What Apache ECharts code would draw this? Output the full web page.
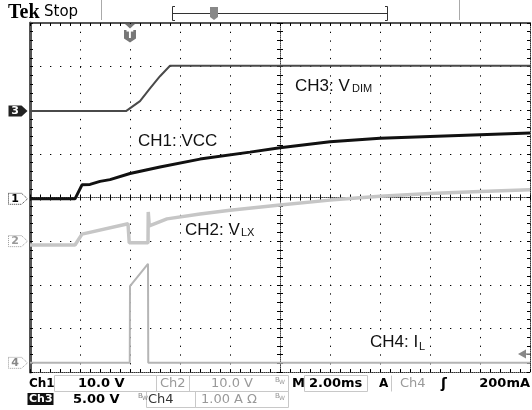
<!DOCTYPE html>
<html><head><meta charset="utf-8">
<style>html,body{margin:0;padding:0;background:#fff}#c{width:532px;height:410px}</style>
<script src="https://cdn.jsdelivr.net/npm/echarts@6/dist/echarts.min.js"></script>
</head><body><div id="c"></div>
<script>
// ---- data (time in ms, 2.00 ms/div, 10 div) ----
const timeRange = [0, 20];               // ms across the screen
const timeDiv = 2;                       // ms per division
const triggerTime = 4;                   // ms (T marker)
const triggerLevelCh4 = 0.2;             // A (200mA)
// CH1: VCC (volts)
const ch1VCC = [[0,0],[1.8,0],[2.08,3.2],[2.4,3.3],[2.8,4.0],[3.2,4.4],[4.0,5.8],[5.2,7.3],[6.8,9.1],[8.8,10.7],[10,11.7],[12,13.1],[14,13.9],[16,14.3],[18,14.7],[20,15.1]];
// CH2: VLX (volts)
const ch2VLX = [[0,-0.9],[1.8,-0.9],[2.08,1.6],[3.92,4.0],[3.97,-0.4],[4.72,-0.4],[4.73,6.7],[4.77,3.5],[5.48,5.1],[6.8,6.2],[8,7.1],[10,8.3],[12,9.4],[14,10.3],[16,10.9],[18,11.4],[20,11.8]];
// CH3: VDIM (volts)
const ch3VDIM = [[0,0],[3.84,0],[4.4,1.15],[4.8,2.6],[5.2,4.0],[5.6,5.2],[20,5.2]];
// CH4: IL (amps)
const ch4IL = [[0,0],[3.99,0],[4.0,1.76],[4.72,2.27],[4.73,0],[20,0]];
// channel scale (units/div) and ground position (div from centre)
const ch1Scale = 10,  ch1Pos = -0.03;
const ch2Scale = 10,  ch2Pos = -1.0;
const ch3Scale = 5,   ch3Pos = 1.98;
const ch4Scale = 1,   ch4Pos = -3.79;

const chart = echarts.init(document.getElementById('c'), null, {renderer:'canvas'});
const tickStyle = {color:'#000', width:1};
function chAxis(scale, pos){ return {type:'value', show:false, min:(-4-pos)*scale, max:(4-pos)*scale}; }
function borderX(pos, lineStyle, inside){
  return {type:'value', min:timeRange[0], max:timeRange[1], interval:timeDiv, position:pos,
    axisLine:{show:true, onZero:false, lineStyle:lineStyle},
    axisTick:{show:true, inside:inside, length:3, lineStyle:tickStyle},
    minorTick:{show:true, splitNumber:5, length:3, lineStyle:tickStyle},
    axisLabel:{show:false}, splitLine:{show:false}};
}
function centerX(inside, showLine){
  return {type:'value', min:-5, max:5, interval:1, position:'bottom',
    axisLine:{show:showLine, onZero:true, onZeroAxisIndex:0, lineStyle:{color:'#444', type:[1,1]}},
    axisTick:{show:true, inside:inside, length:3, lineStyle:tickStyle},
    minorTick:{show:true, splitNumber:5, length:3, lineStyle:tickStyle},
    axisLabel:{show:false}, splitLine:{show:false}};
}
function borderY(pos, lineStyle){
  return {type:'value', min:-4, max:4, interval:1, position:pos,
    axisLine:{show:true, onZero:false, lineStyle:lineStyle},
    axisTick:{show:true, inside:true, length:3, lineStyle:tickStyle},
    minorTick:{show:true, splitNumber:5, length:3, lineStyle:tickStyle},
    axisLabel:{show:false}, splitLine:{show:false}};
}
function centerY(inside, showLine){
  return {type:'value', min:-4, max:4, interval:1, position:'left',
    axisLine:{show:showLine, onZero:true, onZeroAxisIndex:2, lineStyle:{color:'#444', type:[1,1]}},
    axisTick:{show:true, inside:inside, length:3, lineStyle:tickStyle},
    minorTick:{show:true, splitNumber:5, length:3, lineStyle:tickStyle},
    axisLabel:{show:false}, splitLine:{show:false}};
}
const x0 = borderX('bottom', {color:'#333', type:[1,1], width:1}, true);
x0.splitLine = {show:true, lineStyle:{color:'#000', width:1, type:[1.3,7.42]}};
const y0 = borderY('left', {color:'#555', width:3});
y0.splitLine = {show:true, lineStyle:{color:'#000', width:1, type:[1.3,8.7]}};

const option = {
  animation:false,
  backgroundColor:'#fff',
  grid:{left:30, top:23, width:500, height:349, show:false},
  xAxis:[x0, borderX('top', {color:'#555', width:2}, true), centerX(true, true), centerX(false, false)],
  yAxis:[y0, borderY('right', {color:'#333', type:[1,1], width:1}), centerY(true, true), centerY(false, false),
         chAxis(ch1Scale, ch1Pos), chAxis(ch2Scale, ch2Pos), chAxis(ch3Scale, ch3Pos), chAxis(ch4Scale, ch4Pos)],
  series:[
    {name:'CH4', type:'line', xAxisIndex:0, yAxisIndex:7, data:ch4IL, symbol:'none', lineStyle:{color:'#b5b5b5', width:2}, z:3},
    {name:'CH2', type:'line', xAxisIndex:0, yAxisIndex:5, data:ch2VLX, symbol:'none', lineStyle:{color:'#c6c6c6', width:3.5}, z:3},
    {name:'CH3', type:'line', xAxisIndex:0, yAxisIndex:6, data:ch3VDIM, symbol:'none', lineStyle:{color:'#4a4a4a', width:2}, z:4},
    {name:'CH1', type:'line', xAxisIndex:0, yAxisIndex:4, data:ch1VCC, symbol:'none', lineStyle:{color:'#111', width:3}, z:5}
  ]
};
chart.setOption(option);

const px = v => chart.convertToPixel({xAxisIndex:0}, v);
const py = (i, v) => chart.convertToPixel({yAxisIndex:i}, v);
const SANS = '"Liberation Sans", Arial, sans-serif';
const DJ = '"DejaVu Sans", sans-serif';
function txt(x, y, s, font, fill, align){
  return {type:'text', x:x, y:y, z:100, style:{text:s, font:font, fill:fill||'#000', align:align||'left', verticalAlign:'middle'}};
}
function marker(label, y, fill, stroke, tcol){
  return [
    {type:'polygon', z:100, shape:{points:[[8.5,y-5.5],[21.5,y-5.5],[27.5,y],[21.5,y+5.5],[8.5,y+5.5]]},
      style:{fill:fill, stroke:stroke, lineWidth:1, lineDash:stroke==='none'?null:[1,1]}},
    txt(15, y+0.5, label, 'bold 11px ' + DJ, tcol, 'center')
  ];
}
const g = [];
g.push(...marker('3', py(6,0), '#222', 'none', '#fff'));
g.push(...marker('1', py(4,0), '#fff', '#333', '#000'));
g.push(...marker('2', py(5,0), '#fff', '#999', '#999'));
g.push(...marker('4', py(7,0), '#fff', '#999', '#888'));
const tx = px(triggerTime);
g.push({type:'polygon', z:100, shape:{points:[[tx-5,24],[tx+5,24],[tx,28.5]]}, style:{fill:'#777'}});
g.push({type:'polygon', z:100, shape:{points:[[tx-6,30],[tx+6,30],[tx+6,38.5],[tx,42.5],[tx-6,38.5]]}, style:{fill:'#777'}});
g.push(txt(tx, 35.5, 'T', 'bold 10px ' + DJ, '#fff', 'center'));
const ty = py(7, triggerLevelCh4), rx = px(timeRange[1]);
g.push({type:'polygon', z:100, shape:{points:[[rx-12,ty],[rx-4,ty-4.5],[rx-4,ty+4.5]]}, style:{fill:'#888'}});
g.push({type:'line', z:100, shape:{x1:rx-4, y1:ty, x2:rx, y2:ty}, style:{stroke:'#888', lineWidth:1.5}});
g.push(txt(295, 86, 'CH3: V', '17px ' + SANS, '#111'));
g.push(txt(352, 88.5, 'DIM', '11px ' + SANS, '#111'));
g.push(txt(138, 141.5, 'CH1: VCC', '17px ' + SANS, '#111'));
g.push(txt(185, 230.5, 'CH2: V', '17px ' + SANS, '#111'));
g.push(txt(241, 232.5, 'LX', '11px ' + SANS, '#111'));
g.push(txt(370, 342, 'CH4: I', '17px ' + SANS, '#111'));
g.push(txt(419, 347, 'L', '11px ' + SANS, '#111'));
g.push(txt(8, 12.5, 'Tek', 'bold 20px "Liberation Serif", serif', '#000'));
g.push(txt(44, 12.3, 'Stop', '15px ' + DJ, '#000'));
g.push({type:'line', z:100, shape:{x1:101.5, y1:0, x2:101.5, y2:20}, style:{stroke:'#aaa', lineWidth:1}});
g.push({type:'line', z:100, shape:{x1:459.5, y1:0, x2:459.5, y2:20}, style:{stroke:'#aaa', lineWidth:1}});
g.push({type:'polyline', z:100, shape:{points:[[175,6.5],[172.5,6.5],[172.5,20.5],[175,20.5]]}, style:{stroke:'#333', lineWidth:1, fill:null}});
g.push({type:'polyline', z:100, shape:{points:[[385,6.5],[387.5,6.5],[387.5,20.5],[385,20.5]]}, style:{stroke:'#333', lineWidth:1, fill:null}});
g.push({type:'line', z:100, shape:{x1:172.5, y1:13.5, x2:387.5, y2:13.5}, style:{stroke:'#333', lineWidth:1}});
g.push({type:'polygon', z:101, shape:{points:[[210,7],[218,7],[218,17],[214,20],[210,17]]}, style:{fill:'#888'}});
g.push(txt(214, 12.5, 'T', 'bold 8px ' + DJ, '#fff', 'center'));
const boxC = '#c8c8c8';
function box(x, y, w, h){ return {type:'rect', z:90, shape:{x:x, y:y, width:w, height:h}, style:{fill:'none', stroke:boxC, lineWidth:1}}; }
g.push(box(54.5, 375.5, 102, 16), box(156.5, 375.5, 33, 16), box(189.5, 375.5, 99, 16), box(304.5, 375.5, 63, 16));
g.push({type:'line', z:90, shape:{x1:391.5, y1:375.5, x2:391.5, y2:391.5}, style:{stroke:boxC, lineWidth:1}});
g.push(box(146.5, 391.5, 49, 16), box(195.5, 391.5, 93, 16));
g.push(txt(29, 384, 'Ch1', 'bold 12px ' + DJ, '#000'));
g.push(txt(78, 384, '10.0 V', 'bold 13px ' + DJ, '#000'));
g.push(txt(160, 384, 'Ch2', '13px ' + DJ, '#999'));
g.push(txt(211, 384, '10.0 V', '13px ' + DJ, '#999'));
g.push(txt(275, 380, 'B', '7px ' + DJ, '#999'));
g.push(txt(279, 382, 'W', '6px ' + DJ, '#999'));
g.push(txt(292, 384, 'M', 'bold 13px ' + DJ, '#000'));
g.push(txt(309, 384, '2.00ms', 'bold 13px ' + DJ, '#000'));
g.push(txt(379, 384, 'A', 'bold 12px ' + DJ, '#000'));
g.push(txt(400, 384, 'Ch4', '13px ' + DJ, '#999'));
g.push(txt(444, 384, '\u0283', 'bold 14px ' + DJ, '#000', 'center'));
g.push(txt(530, 384, '200mA', 'bold 13px ' + DJ, '#000', 'right'));
g.push({type:'rect', z:90, shape:{x:27.5, y:393, width:26, height:12}, style:{fill:'#111'}});
g.push(txt(29, 399.5, 'Ch3', 'bold 11px ' + DJ, '#fff'));
g.push(txt(73, 399.5, '5.00 V', 'bold 13px ' + DJ, '#000'));
g.push(txt(138, 396, 'B', '7px ' + DJ, '#888'));
g.push(txt(142, 398, 'W', '6px ' + DJ, '#888'));
g.push(txt(148, 399.5, 'Ch4', '13px ' + DJ, '#333'));
g.push(txt(201, 399.5, '1.00 A \u03A9', '13px ' + DJ, '#999'));
g.push(txt(275, 396, 'B', '7px ' + DJ, '#999'));
g.push(txt(279, 398, 'W', '6px ' + DJ, '#999'));
chart.setOption({graphic:g});
</script></body></html>
